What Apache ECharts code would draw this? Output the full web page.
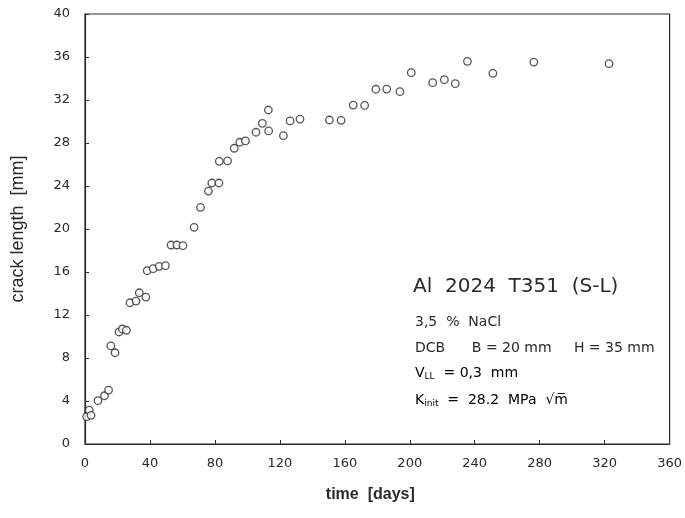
<!DOCTYPE html>
<html>
<head>
<meta charset="utf-8">
<script src="https://cdn.jsdelivr.net/npm/echarts@6/dist/echarts.min.js"></script>
<style>html,body{margin:0;padding:0;background:#fff;}#c{width:685px;height:518px;}</style>
</head>
<body>
<div id="c"></div>
<script>
// time [days]
const timeDays = [1.0, 2.6, 3.7, 8.0, 12.0, 14.5, 15.9, 18.5, 21.0, 23.0, 25.5, 27.7, 31.4, 33.4, 37.5, 38.3, 42.0, 45.7, 49.5, 53.0, 56.6, 60.3, 67.2, 71.1, 76.0, 78.1, 82.5, 82.7, 87.8, 91.9, 95.3, 98.8, 105.3, 109.2, 112.9, 113.1, 122.2, 126.3, 132.4, 150.5, 157.7, 165.2, 172.2, 179.1, 185.8, 193.9, 200.9, 214.1, 221.3, 228.0, 235.5, 251.2, 276.4, 322.7];
// crack length [mm]
const crackLength = [2.54, 3.16, 2.67, 4.03, 4.49, 5.02, 9.12, 8.49, 10.42, 10.70, 10.58, 13.14, 13.30, 14.07, 13.67, 16.12, 16.31, 16.53, 16.59, 18.51, 18.51, 18.45, 20.16, 22.02, 23.53, 24.28, 24.28, 26.30, 26.33, 27.51, 28.07, 28.19, 29.0, 29.83, 31.07, 29.12, 28.68, 30.05, 30.23, 30.14, 30.11, 31.53, 31.5, 33.0, 33.02, 32.77, 34.54, 33.61, 33.89, 33.52, 35.6, 34.48, 35.53, 35.38];
const xTicks = [0, 40, 80, 120, 160, 200, 240, 280, 320, 360];
const yTicks = [0, 4, 8, 12, 16, 20, 24, 28, 32, 36, 40];

const points = timeDays.map((t, i) => [t, crackLength[i]]);
const chart = echarts.init(document.getElementById('c'));
const ink = '#2a2a2a';
const tickFont = 'DejaVu Sans';
const annoFont = 'DejaVu Sans';

chart.setOption({
  animation: false,
  backgroundColor: '#fff',
  grid: { left: 85, right: 13, top: 14, bottom: 74, show: true, borderColor: ink, borderWidth: 1.2, backgroundColor: 'transparent' },
  xAxis: {
    type: 'value', min: xTicks[0], max: xTicks[xTicks.length - 1], interval: 40,
    name: 'time  [days]', nameLocation: 'middle', nameGap: 43,
    nameTextStyle: { fontFamily: 'Liberation Sans', fontSize: 16, fontWeight: 'bold', color: ink, padding: [0, 14, 0, 0] },
    axisLine: { lineStyle: { color: ink, width: 1.2 } },
    axisTick: { inside: true, length: 4, lineStyle: { color: ink } },
    axisLabel: { fontFamily: tickFont, fontSize: 13, color: ink, margin: 13 },
    splitLine: { show: false }
  },
  yAxis: {
    type: 'value', min: yTicks[0], max: yTicks[yTicks.length - 1], interval: 4,
    name: 'crack length  [mm]', nameLocation: 'middle', nameGap: 58, nameRotate: 90,
    nameTextStyle: { fontFamily: 'Liberation Sans', fontSize: 18, color: ink },
    axisLine: { lineStyle: { color: ink, width: 1.2 } },
    axisTick: { inside: true, length: 4, lineStyle: { color: ink } },
    axisLabel: { fontFamily: tickFont, fontSize: 13, color: ink, margin: 15 },
    splitLine: { show: false }
  },
  series: [{
    type: 'scatter',
    data: points,
    symbol: 'circle',
    symbolSize: 7.5,
    itemStyle: { color: '#fff', borderColor: ink, borderWidth: 1.3 }
  }],
  graphic: [
    { type: 'text', left: 413, top: 277, style: { text: 'Al  2024  T351  (S-L)', font: '20px "DejaVu Sans"', fill: ink } },
    { type: 'text', left: 415, top: 315, style: { text: '3,5  %  NaCl', font: '14px "DejaVu Sans"', fill: ink } },
    { type: 'text', left: 415, top: 341, style: { text: 'DCB      B = 20 mm     H = 35 mm', font: '14px "DejaVu Sans"', fill: ink } },
    { type: 'text', left: 415, top: 366, style: {
        text: '{m|V}{s|LL}{m|  = 0,3  mm}',
        rich: { m: { fontFamily: annoFont, fontSize: 14, color: ink }, s: { fontFamily: annoFont, fontSize: 9, color: ink, padding: [8, 0, 0, 0] } } } },
    { type: 'text', left: 415, top: 393, style: {
        text: '{m|K}{s|init}{m|  =  28.2  MPa  √m\u0305}',
        rich: { m: { fontFamily: annoFont, fontSize: 14, color: ink }, s: { fontFamily: annoFont, fontSize: 9, color: ink, padding: [8, 0, 0, 0] } } } }
  ]
});
</script>
</body>
</html>
